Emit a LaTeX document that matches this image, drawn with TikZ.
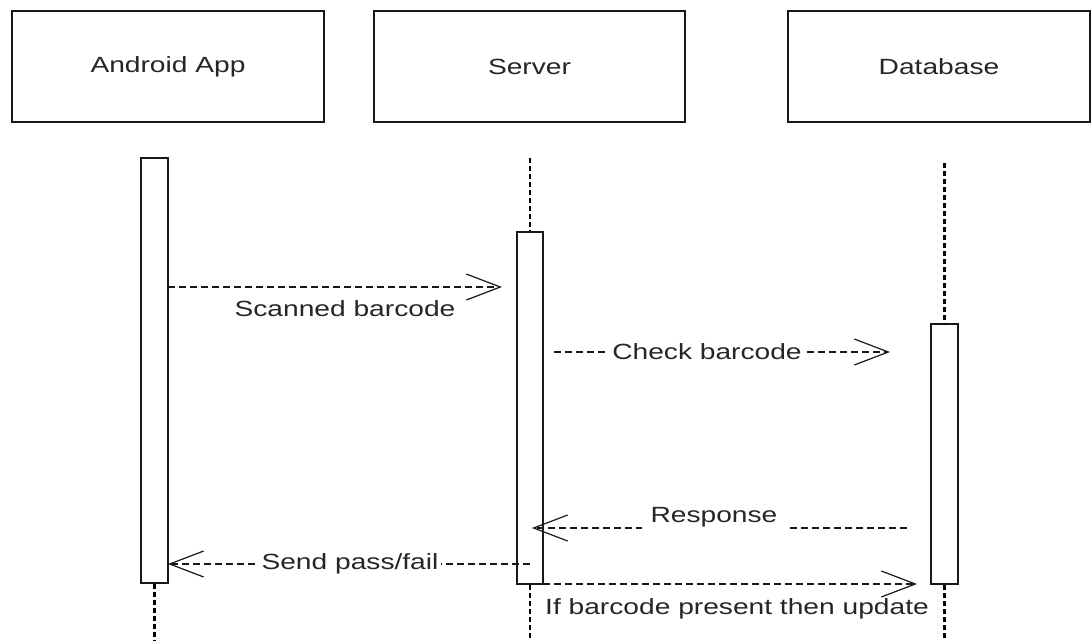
\documentclass[tikz,border=0pt]{standalone}
\usepackage{fontspec}
\setmainfont{Liberation Sans}[FakeStretch=1.28]
\usetikzlibrary{arrows.meta}
\begin{document}
\begin{tikzpicture}[x=1pt,y=-1pt,
  actor/.style={draw=black!90, line width=1.5pt, minimum height=111pt, inner sep=0pt,
    font=\fontsize{22}{26}\selectfont, text=black!85},
  actbox/.style={draw=black!90, line width=1.5pt, fill=white, inner sep=0pt},
  life/.style={draw=black, line width=2.2pt, dash pattern=on 5pt off 3pt},
  msg/.style={draw=black!90, line width=1.2pt, dash pattern=on 7pt off 4pt,
    -{Straight Barb[length=34pt,width=26pt,line width=1.2pt]}},
  lbl/.style={font=\fontsize{22}{26}\selectfont, text=black!85, inner sep=2pt}
]
\useasboundingbox (0,0) rectangle (1091,640);
\clip (0,0) rectangle (1091,640);
\fill[white] (0,0) rectangle (1091,640);

% actors
\node[actor, minimum width=312pt] (android) at (168,66.5) {Android App};
\node[actor, minimum width=311pt] (server) at (529.5,66.5) {Server};
\node[actor, minimum width=302pt] (db) at (939,66.5) {Database};

% lifeline coordinates
\coordinate (aBot) at (154.5,640);
\coordinate (sTop) at (530,158);
\coordinate (sBot) at (530,640);
\coordinate (dTop) at (944.5,163);
\coordinate (dBot) at (944.5,640);

% activation boxes
\node[actbox, minimum width=27pt, minimum height=425pt] (aact) at (154.5,370.5) {};
\node[actbox, minimum width=26pt, minimum height=352pt] (sact) at (530,408) {};
\node[actbox, minimum width=27pt, minimum height=260pt] (dact) at (944.5,454) {};

% lifelines
\draw[life] (aact.south) -- (aBot);
\draw[life] (sTop) -- (sact.north);
\draw[life] (sact.south) -- (sBot);
\draw[life] (dTop) -- (dact.north);
\draw[life] (dact.south) -- (dBot);

% message end points
\coordinate (m1s) at (168,287);   \coordinate (m1e) at (502,287);
\coordinate (m2s) at (554,352);   \coordinate (m2e) at (890,352);
\coordinate (m3s) at (907,528);   \coordinate (m3e) at (532,528);
\coordinate (m4s) at (530,564);   \coordinate (m4e) at (168,564);
\coordinate (m5s) at (543,584);   \coordinate (m5e) at (917,584);

% messages
\draw[msg] (m1s) -- (m1e);
\node[lbl] (l1) at (345,309) {Scanned barcode};

\draw[msg] (m2s) -- (m2e);
\node[lbl, fill=white, inner xsep=3pt] (l2) at (707,352) {Check barcode};

\draw[msg] (m3s) -- (m3e);
\node[lbl, fill=white, inner xsep=9pt, inner ysep=4pt] (l3) at (714,517) {Response};

\draw[msg] (m4s) -- (m4e);
\node[lbl, fill=white, inner xsep=3pt] (l4) at (350,564) {Send pass/fail};

\draw[msg] (m5s) -- (m5e);
\node[lbl] (l5) at (737,609) {If barcode present then update};
\end{tikzpicture}
\end{document}
